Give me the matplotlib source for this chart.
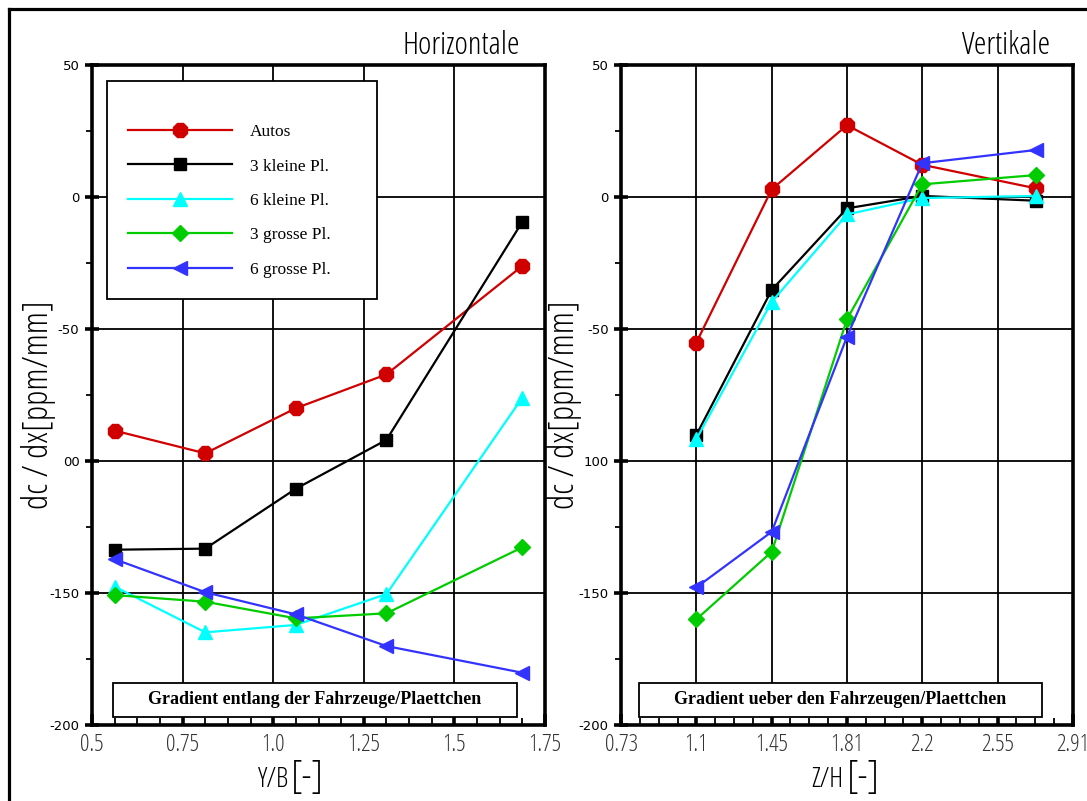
import os
import numpy as np
import matplotlib
matplotlib.use("Agg")
from matplotlib import pyplot as plt
from matplotlib import font_manager as fm
from matplotlib.lines import Line2D
from matplotlib.patches import Rectangle

# Daten
serien = ['Autos', '3 kleine Pl.', '6 kleine Pl.', '3 grosse Pl.', '6 grosse Pl.']
farben = ['#d00000', '#000000', '#00ffff', '#00cc00', '#3333ff']
marker = ['8', 's', '^', 'D', '<']
msize = [11, 9, 10, 8, 10]

yb = [0.5625, 0.8125, 1.0625, 1.3125, 1.6875]
horiz_autos = [-88.5, -97.1, -80.0, -67.2, -26.1]
horiz_3klein = [-133.6, -133.2, -110.5, -92.0, -9.4]
horiz_6klein = [-147.6, -164.9, -162.1, -150.4, -76.0]
horiz_3gross = [-150.8, -153.3, -159.6, -157.7, -132.7]
horiz_6gross = [-137.2, -149.7, -158.1, -170.1, -180.2]

zh = [1.093, 1.457, 1.82, 2.183, 2.73]
vert_autos = [-55.2, 2.9, 27.2, 12.2, 3.3]
vert_3klein = [-90.2, -35.2, -4.3, 0.4, -1.4]
vert_6klein = [-91.8, -39.7, -6.6, -0.4, 0.4]
vert_3gross = [-160.0, -134.4, -46.3, 4.8, 8.3]
vert_6gross = [-147.9, -126.8, -52.9, 12.8, 17.8]

yticks = [-200, -150, -100, -50, 0, 50]
ylabels_links = ['-200', '-150', '00', '-50', '0', '50']
ylabels_rechts = ['-200', '-150', '100', '-50', '0', '50']
xticks_links = [0.5, 0.75, 1.0, 1.25, 1.5, 1.75]
xlabels_links = ['0.5', '0.75', '1.0', '1.25', '1.5', '1.75']
xticks_rechts = np.linspace(0.73, 2.91, 7)
xlabels_rechts = ['0.73', '1.1', '1.45', '1.81', '2.2', '2.55', '2.91']

# schmale Schrift suchen, sonst DejaVu Sans
wunsch = ['OpenSans-CondLight', 'OpenSans-CondensedLight', 'RobotoCondensed-Light',
          'RobotoCondensed-Regular', 'LiberationSansNarrow-Regular', 'DejaVuSansCondensed.ttf',
          'Roboto-Light', 'Lato-Light']
dateien = [f.fname for f in fm.fontManager.ttflist]
schmal_datei = None
for w in wunsch:
    treffer = [d for d in dateien if w in os.path.basename(d)]
    if treffer:
        schmal_datei = treffer[0]
        break

def schmal(size):
    if schmal_datei:
        return fm.FontProperties(fname=schmal_datei, size=size)
    return fm.FontProperties(family='DejaVu Sans', size=size)

serif = ['Liberation Serif', 'DejaVu Serif']

W, H = 1087, 801
fig = plt.figure(figsize=(W / 100, H / 100), dpi=100)

def px(x0, y0, x1, y1):
    return [x0 / W, 1 - y1 / H, (x1 - x0) / W, (y1 - y0) / H]

ax1 = fig.add_axes(px(92, 65, 545, 725))
ax2 = fig.add_axes(px(621, 65, 1073, 725))

def einrichten(ax, xlim, xt, xl, yl, nminor):
    ax.set_xlim(*xlim)
    ax.set_ylim(-200, 50)
    ax.set_xticks(xt)
    ax.set_xticklabels(xl, fontproperties=schmal(17), color='#333333')
    step = xt[1] - xt[0]
    ax.set_xticks(np.arange(xlim[0], xlim[1] + 1e-6, step / nminor), minor=True)
    ax.set_yticks(yticks)
    ax.set_yticklabels(yl, family=['DejaVu Sans'], fontsize=9.5)
    ax.set_yticks(np.arange(-200, 51, 25), minor=True)
    ax.grid(True, which='major', color='black', linewidth=1.3)
    for s in ax.spines.values():
        s.set_linewidth(2.6)
    ax.tick_params(axis='x', which='major', direction='in', length=8, width=2.6, pad=6)
    ax.tick_params(axis='x', which='minor', direction='in', length=5, width=1.3)
    ax.tick_params(axis='y', which='major', direction='inout', length=10, width=2.6, pad=4)
    ax.tick_params(axis='y', which='minor', direction='out', length=4, width=1.3)
    ax.set_axisbelow(True)

einrichten(ax1, (0.5, 1.75), xticks_links, xlabels_links, ylabels_links, 4)
einrichten(ax2, (0.73, 2.91), xticks_rechts, xlabels_rechts, ylabels_rechts, 4)

horiz = [horiz_autos, horiz_3klein, horiz_6klein, horiz_3gross, horiz_6gross]
vert = [vert_autos, vert_3klein, vert_6klein, vert_3gross, vert_6gross]
for i in range(5):
    ax1.plot(yb, horiz[i], color=farben[i], marker=marker[i], markersize=msize[i],
             linewidth=1.6, label=serien[i], clip_on=False, zorder=3)
    ax2.plot(zh, vert[i], color=farben[i], marker=marker[i], markersize=msize[i],
             linewidth=1.6, clip_on=False, zorder=3)

# Legende mit eigenem Rahmen
x0, x1, y0, y1 = 107, 377, 81, 299
ax1.add_patch(Rectangle(((x0 - 92) / 453, (725 - y1) / 660), (x1 - x0) / 453, (y1 - y0) / 660,
                        transform=ax1.transAxes, facecolor='white', edgecolor='black',
                        linewidth=1.3, zorder=4))
leg = ax1.legend(loc='upper left', bbox_to_anchor=((128 - 92) / 453, (725 - 124) / 660),
                 frameon=False, prop={'family': serif, 'size': 12.5}, borderpad=0,
                 borderaxespad=0, handlelength=6.0, handletextpad=1.0, labelspacing=1.05)
leg.set_zorder(5)

# Textkaesten unten
def kasten(ax, x0, x1, lx0, lw, text):
    ax.add_patch(Rectangle(((x0 - lx0) / lw, (725 - 717) / 660), (x1 - x0) / lw, 34 / 660,
                           transform=ax.transAxes, facecolor='white', edgecolor='black',
                           linewidth=1.3, zorder=4))
    ax.text(((x0 + x1) / 2 - lx0) / lw, (725 - 700) / 660, text, transform=ax.transAxes,
            ha='center', va='center', family=serif, fontsize=13, fontweight='bold', zorder=5)

kasten(ax1, 113, 517, 92, 453, 'Gradient entlang der Fahrzeuge/Plaettchen')
kasten(ax2, 639, 1042, 621, 452, 'Gradient ueber den Fahrzeugen/Plaettchen')

# Titel und Achsenbeschriftungen
fig.text(520 / W, 1 - 46 / H, 'Horizontale', ha='right', va='center', fontproperties=schmal(23))
fig.text(1050 / W, 1 - 46 / H, 'Vertikale', ha='right', va='center', fontproperties=schmal(23))
for xc in (39, 565):
    fig.text(xc / W, 1 - 405 / H, 'dc / dx[ppm/mm]', rotation=90, ha='center', va='center',
             fontproperties=schmal(25))
fig.text(289 / W, 1 - 780 / H, 'Y/B', ha='right', va='center', fontproperties=schmal(20))
fig.text(291 / W, 1 - 778 / H, '[-]', ha='left', va='center', fontproperties=schmal(27))
fig.text(843 / W, 1 - 780 / H, 'Z/H', ha='right', va='center', fontproperties=schmal(20))
fig.text(847 / W, 1 - 778 / H, '[-]', ha='left', va='center', fontproperties=schmal(27))

# Rahmen der Abbildung (oben und links)
fig.add_artist(Line2D([8.5 / W, 1], [1 - 8.5 / H, 1 - 8.5 / H], color='black', linewidth=2.3))
fig.add_artist(Line2D([8.5 / W, 8.5 / W], [0, 1 - 8.5 / H], color='black', linewidth=2.3))

fig.savefig('out.png', dpi=100)
